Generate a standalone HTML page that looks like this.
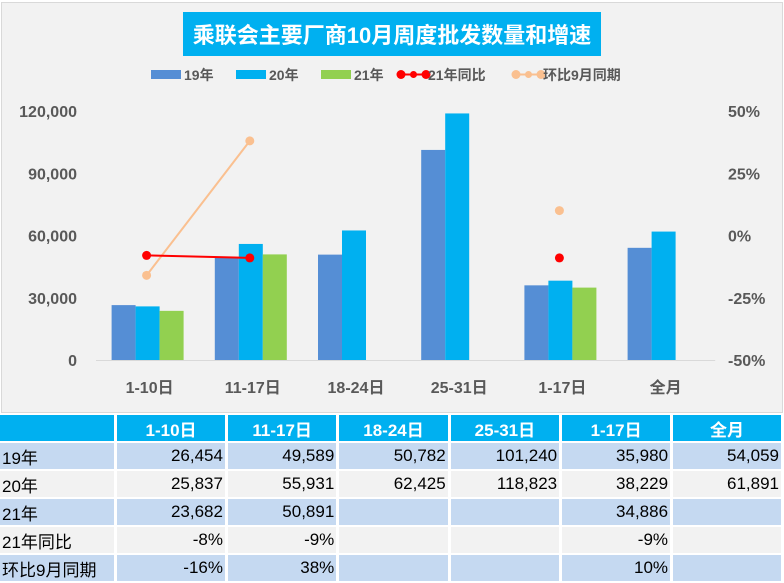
<!DOCTYPE html>
<html><head><meta charset="utf-8">
<style>
body{margin:0;width:784px;height:582px;background:#fff;font-family:"Liberation Sans","Noto Sans CJK SC",sans-serif;overflow:hidden}
#chart{position:absolute;left:1px;top:2px;width:780px;height:409px;background:#f2f2f2;border:1px solid #d9d9d9}
table{position:absolute;left:0;top:413px;border-collapse:separate;border-spacing:3px 2px;margin-left:-3px;font-size:17px}
td{height:26px;padding:0 2px;text-align:right;white-space:nowrap}
td.l{text-align:left;width:111px}
td.v{width:107px}
tr.h td{background:#00b0f0;color:#fff;font-weight:bold;text-align:center}
tr.a td{background:#c5d9f1}
tr.b td{background:#f2f2f2}
</style></head><body>
<svg id="chart" width="780" height="409" viewBox="1 2 780 409"></svg>
<table>
<tr class="h"><td class="l"></td><td>1-10日</td><td>11-17日</td><td>18-24日</td><td>25-31日</td><td>1-17日</td><td>全月</td></tr>
<tr class="a"><td class="l">19年</td><td class="v">26,454</td><td class="v">49,589</td><td class="v">50,782</td><td class="v">101,240</td><td class="v">35,980</td><td class="v">54,059</td></tr>
<tr class="b"><td class="l">20年</td><td>25,837</td><td>55,931</td><td>62,425</td><td>118,823</td><td>38,229</td><td>61,891</td></tr>
<tr class="a"><td class="l">21年</td><td>23,682</td><td>50,891</td><td></td><td></td><td>34,886</td><td></td></tr>
<tr class="b"><td class="l">21年同比</td><td>-8%</td><td>-9%</td><td></td><td></td><td>-9%</td><td></td></tr>
<tr class="a"><td class="l">环比9月同期</td><td>-16%</td><td>38%</td><td></td><td></td><td>10%</td><td></td></tr>
</table>
<script>
const categories=["1-10日","11-17日","18-24日","25-31日","1-17日","全月"];
const s19=[26454,49589,50782,101240,35980,54059];
const s20=[25837,55931,62425,118823,38229,61891];
const s21=[23682,50891,null,null,34886,null];
const yoy=[-8,-9,null,null,-9,null];
const mom=[-16,38,null,null,10,null];
const leftTicks=[0,30000,60000,90000,120000];
const rightTicks=[-50,-25,0,25,50];
const svg=document.getElementById('chart');const NS='http://www.w3.org/2000/svg';
function el(t,a,p){const e=document.createElementNS(NS,t);for(const k in a)e.setAttribute(k,a[k]);(p||svg).appendChild(e);return e;}
const x0=95,cw=103.2;
const xc=i=>x0+cw*(i+0.5);
const yL=v=>359-v*249/120000;
const yR=v=>234.5-v*2.49;
let t=el('rect',{x:182,y:11,width:418,height:44,fill:'#00b0f0'});

t=el('text',{x:391,y:42,'text-anchor':'middle',fill:'#fff','font-size':22,'font-weight':'bold'});t.textContent='乘联会主要厂商10月周度批发数量和增速';

// legend
const lg=[['rect','#558ed5','19年',150],['rect','#00b0f0','20年',235],['rect','#92d050','21年',320],['line','#ff0000','21年同比',400],['line','#fac090','环比9月同期',515]];
lg.forEach(g=>{const gr=el('g',{});
if(g[0]=='rect')el('rect',{x:g[3],y:69,width:30,height:9,fill:g[1]},gr);
else{el('line',{x1:g[3],y1:73.5,x2:g[3]+25,y2:73.5,stroke:g[1],'stroke-width':2},gr);[0,12.5,25].forEach(d=>el('circle',{cx:g[3]+d,cy:73.5,r:d==12.5?3.5:4.5,fill:g[1]},gr));}
const tx=el('text',{x:g[3]+(g[0]=='rect'?33:27),y:79,'font-size':14,'font-weight':'bold',fill:'#595959'},gr);tx.textContent=g[2];});
leftTicks.forEach(v=>{const e=el('text',{x:76,y:yL(v)+6,'text-anchor':'end','font-size':16,'font-weight':'bold',fill:'#595959'});e.textContent=v.toLocaleString('en-US');});
rightTicks.forEach(v=>{const e=el('text',{x:727,y:yR(v)+6,'font-size':16,'font-weight':'bold',fill:'#595959'});e.textContent=v+'%';});
el('line',{x1:x0,y1:359.5,x2:x0+cw*6,y2:359.5,stroke:'#d9d9d9'});
categories.forEach((c,i)=>{const e=el('text',{x:xc(i)+2,y:392,'text-anchor':'middle','font-size':16,'font-weight':'bold',fill:'#595959'});e.textContent=c;});
const bw=24;
[[s19,'#558ed5','bar-19'],[s20,'#00b0f0','bar-20'],[s21,'#92d050','bar-21']].forEach((s,k)=>{s[0].forEach((v,i)=>{if(v==null)return;const x=xc(i)-36+k*bw;const r=el('rect',{x:x,y:yL(v),width:bw,height:yL(0)-yL(v),fill:s[1]});});});
function line(arr,col,name){let seg=[];arr.forEach((v,i)=>{if(v==null){draw();seg=[];}else seg.push([xc(i)-1,yR(v)]);});draw();
function draw(){if(seg.length>1){const p=el('polyline',{points:seg.map(q=>q.join(',')).join(' '),fill:'none',stroke:col,'stroke-width':2});}
seg.forEach(q=>{const c=el('circle',{cx:q[0],cy:q[1],r:4.5,fill:col});});}}
line(mom,'#fac090','mom');line(yoy,'#ff0000','yoy');
</script>
</body></html>
